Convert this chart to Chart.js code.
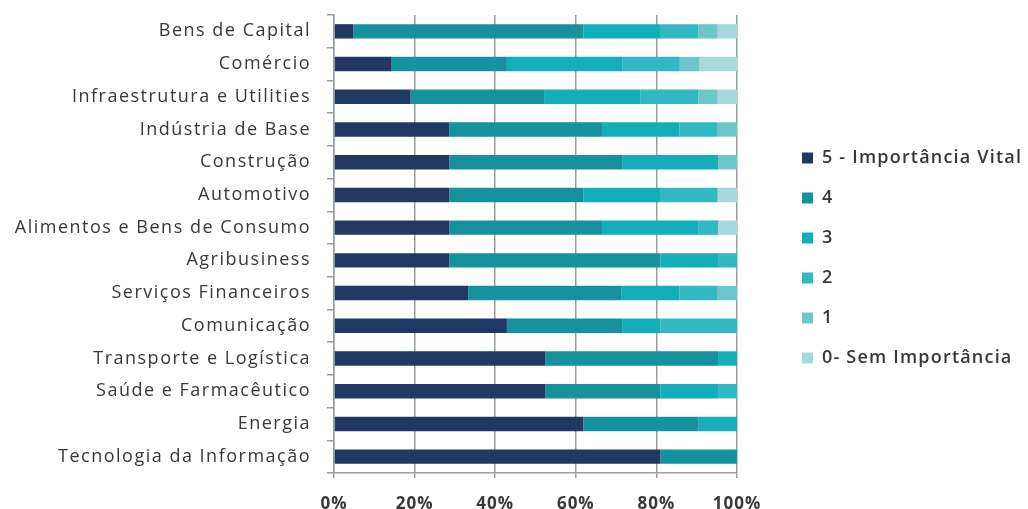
<!DOCTYPE html>
<html>
<head>
<meta charset="utf-8">
<script src="https://cdn.jsdelivr.net/npm/chart.js@4"></script>
<style>
html,body{margin:0;padding:0;background:#fff;}
#wrap{width:1028px;height:509px;position:relative;}
</style>
</head>
<body>
<div id="wrap"><canvas id="c" width="1028" height="509"></canvas></div>
<script>
const categories = [
  "Bens de Capital","Comércio","Infraestrutura e Utilities","Indústria de Base",
  "Construção","Automotivo","Alimentos e Bens de Consumo","Agribusiness",
  "Serviços Financeiros","Comunicação","Transporte e Logística",
  "Saúde e Farmacêutico","Energia","Tecnologia da Informação"
];
const seriesNames = ["5 - Importância Vital","4","3","2","1","0- Sem Importância"];
const seriesColors = ["#213862","#15929e","#14adba","#31b8c3","#6dc6cc","#a5d9dd"];
const vital5 = [4.8,14.3,19.0,28.6,28.6,28.6,28.6,28.6,33.3,42.9,52.4,52.4,61.9,81.0];
const imp4   = [57.1,28.6,33.3,38.1,42.9,33.3,38.1,52.4,38.1,28.6,42.9,28.6,28.6,19.0];
const imp3   = [19.0,28.6,23.8,19.0,23.8,19.0,23.8,14.3,14.3,9.5,4.8,14.3,9.5,0];
const imp2   = [9.5,14.3,14.3,9.5,0,14.3,4.8,4.8,9.5,19.0,0,4.8,0,0];
const imp1   = [4.8,4.8,4.8,4.8,4.8,0,0,0,4.8,0,0,0,0,0];
const imp0   = [4.8,9.5,4.8,0,0,4.8,4.8,0,0,0,0,0,0,0];
const xTicks = [0,20,40,60,80,100];

const seriesData = [vital5,imp4,imp3,imp2,imp1,imp0];
const textColor = "#383838";
const fontFamily = "'Open Sans', sans-serif";
const axisGray = "#9a9d9d";

function spaced(fn, spacing){
  return function(){
    const c = this.ctx; const prev = c.letterSpacing;
    c.letterSpacing = spacing;
    const r = fn.apply(this, arguments);
    c.letterSpacing = prev || '0px';
    return r;
  };
}

const layoutTweaks = {
  id: 'layoutTweaks',
  afterInit(chart){
    const lg = chart.legend;
    const f = lg.fit;
    lg.fit = function(){ f.apply(this, arguments); this.width = 291; };
    lg.draw = spaced(lg.draw, '1.2px');
  },
  afterLayout(chart){
    const lg = chart.legend;
    lg.left += 43; lg.right += 43;
    lg.top -= 4; lg.bottom -= 4;
    for (const id of ['x','y']){
      const s = chart.scales[id];
      if (!s._spacedWrap){
        s.drawLabels = spaced(s.drawLabels, id === 'y' ? '1.5px' : '1px');
        s._spacedWrap = true;
      }
    }
  }
};

new Chart(document.getElementById('c'), {
  type: 'bar',
  data: {
    labels: categories,
    datasets: seriesData.map((d,i)=>({
      label: seriesNames[i],
      data: d,
      backgroundColor: seriesColors[i],
      borderWidth: 0,
      barPercentage: 0.44,
      categoryPercentage: 1.0
    }))
  },
  plugins: [layoutTweaks],
  options: {
    indexAxis: 'y',
    responsive: false,
    animation: false,
    devicePixelRatio: 1,
    layout: { padding: { top: 15, right: 0, left: 0, bottom: 0 } },
    plugins: {
      tooltip: { enabled: false },
      legend: {
        position: 'right',
        align: 'center',
        labels: {
          boxWidth: 11,
          boxHeight: 11,
          padding: 22,
          color: textColor,
          font: { family: fontFamily, size: 18, weight: '600' }
        }
      }
    },
    scales: {
      x: {
        stacked: true,
        min: 0, max: 100,
        afterBuildTicks: (s) => { s.ticks = xTicks.map(v=>({value:v})); },
        afterFit: (s) => { s.height = 36; s.paddingLeft = 0; s.paddingRight = 0; },
        grid: { color: axisGray, lineWidth: 1.5, drawTicks: true, tickLength: 5 },
        border: { display: true, color: axisGray, width: 1.5 },
        ticks: {
          padding: 16,
          color: textColor,
          font: { family: fontFamily, size: 17, weight: '700' },
          callback: (v) => v + '%'
        }
      },
      y: {
        stacked: true,
        afterFit: (s) => { s.width = 334; s.paddingTop = 0; s.paddingBottom = 0; },
        grid: { drawOnChartArea: false, color: axisGray, lineWidth: 1.5, tickLength: 7, offset: true },
        border: { display: true, color: axisGray, width: 1.5 },
        ticks: {
          padding: 16,
          color: textColor,
          font: { family: fontFamily, size: 18 }
        }
      }
    }
  }
});
</script>
</body>
</html>
